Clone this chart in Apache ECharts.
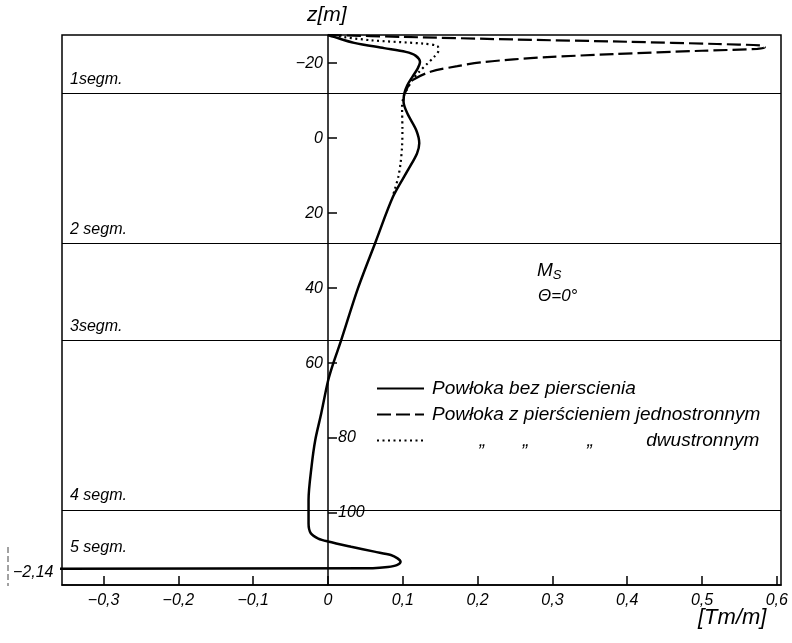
<!DOCTYPE html>
<html><head><meta charset="utf-8">
<script src="https://cdn.jsdelivr.net/npm/echarts@6/dist/echarts.min.js"></script>
<style>html,body{margin:0;padding:0;background:#fff}#c{width:792px;height:643px}</style>
</head><body><div id="c"></div>
<script>
// ---- data (x = M_s [Tm/m], z = depth [m]) ----
const seriesNames = [
  'Powłoka bez pierscienia',
  'Powłoka z pierścieniem jednostronnym',
  '         „       „           „          dwustronnym'
];
const solidData = [
  [0.0,-27.5],[0.008,-27.0],[0.035,-25.4],[0.075,-24.0],[0.104,-23.0],[0.117,-22.0],
  [0.123,-20.3],[0.120,-18.6],[0.113,-16.4],[0.106,-14.1],[0.102,-11.9],[0.101,-9.7],
  [0.106,-6.6],[0.118,-2.1],[0.122,1.4],[0.119,4.1],[0.107,8.5],[0.087,15.6],
  [0.064,27.5],[0.040,40.1],[0.017,54.3],[0.007,60.1],[0.0,64.8],
  [-0.009,73.4],[-0.017,80.5],[-0.022,87.6],[-0.026,96.5],[-0.026,102.8],[-0.023,105.4],
  [-0.013,106.8],[0.0,107.6],[0.031,109.0],[0.062,110.3],[0.084,111.2],[0.093,112.1],
  [0.097,113.0],[0.092,113.9],[0.080,114.4],[0.06,114.7],[-2.14,115.4]
];
const dashedData = [
  [0.0,-27.5],[0.1,-27.0],[0.25,-26.3],[0.4,-25.7],[0.52,-25.1],[0.578,-24.7],
  [0.584,-24.2],[0.574,-23.8],[0.5,-23.3],[0.381,-22.4],[0.293,-21.6],[0.248,-21.0],
  [0.204,-20.2],[0.173,-19.2],[0.137,-17.7],[0.115,-15.7],[0.108,-14.1],[0.103,-12.0]
];
const dottedData = [
  [0.0,-27.5],[0.057,-26.1],[0.128,-25.2],[0.146,-24.6],[0.148,-23.5],[0.142,-21.7],
  [0.133,-19.9],[0.122,-17.7],[0.113,-15.5],[0.105,-12.8],[0.101,-11.0],[0.099,-8.3],
  [0.0995,-2.1],[0.099,2.3],[0.097,6.7],[0.094,10.3],[0.089,13.9],[0.086,15.8]
];
const segmentZ = [-12.0, 28.0, 54.0, 99.2, 115.0];
const segmentNames = ['1segm.', '2 segm.', '3segm.', '4 segm.', '5 segm.'];
const xTicks = [-0.3,-0.2,-0.1,0,0.1,0.2,0.3,0.4,0.5,0.6];
const zTicks = [-20,0,20,40,60,80,100];
const zTicksLeft = [-20,0,20,40,60];
const zTicksRight = [80,100];

const X_MIN = -0.3556, X_MAX = 0.6056;
const GRID = {left: 62, right: 11, top: 35, bottom: 58};
const plotW = 792 - GRID.left - GRID.right;
// pixel offset of the z axis (at x = 0) from the plot's left and right edges
const zeroFromLeft = (0 - X_MIN) / (X_MAX - X_MIN) * plotW;
const zeroFromRight = plotW - zeroFromLeft;

const FONT = "'Liberation Sans', Arial, sans-serif";
const txt = (size) => ({fontFamily: FONT, fontStyle: 'italic', fontSize: size, color: '#000'});
const num = (s) => s.replace('-', '\u2212');

const chart = echarts.init(document.getElementById('c'), null, {renderer: 'canvas'});
const segLines = segmentZ.map((z, i) => {
  const item = {yAxis: z, label: {formatter: segmentNames[i]}};
  if (i === segmentZ.length - 1) {
    item.lineStyle = {color: 'rgba(0,0,0,0)', width: 0};
    item.label.distance = [8, 14];
  }
  return item;
});

chart.setOption({
  animation: false,
  backgroundColor: '#fff',
  grid: Object.assign({show: true, borderColor: '#000', borderWidth: 1.5,
    containLabel: false, outerBoundsMode: 'none'}, GRID),
  legend: {
    orient: 'vertical', left: 371, top: 374, itemWidth: 47, itemHeight: 14, itemGap: 7,
    selectedMode: false, data: seriesNames,
    itemStyle: {opacity: 0},
    textStyle: Object.assign(txt(19), {padding: [0,0,0,3], lineHeight: 19})
  },
  xAxis: {
    type: 'value', min: X_MIN, max: X_MAX,
    splitLine: {show: false},
    axisLine: {onZero: false, lineStyle: {color: '#000', width: 1.5}},
    axisTick: {inside: true, length: 9, customValues: xTicks, lineStyle: {color: '#000', width: 1.5}},
    axisLabel: Object.assign(txt(16), {customValues: xTicks, margin: 8,
      formatter: v => Math.abs(v) < 1e-9 ? '0' : num(v.toFixed(1).replace('.', ','))})
  },
  yAxis: [{
    type: 'value', inverse: true, min: -27.5, max: 119.2, position: 'left',
    offset: -zeroFromLeft,
    splitLine: {show: false},
    axisLine: {onZero: false, lineStyle: {color: '#000', width: 1.5}},
    axisTick: {inside: true, length: 9, customValues: zTicks, lineStyle: {color: '#000', width: 1.5}},
    axisLabel: Object.assign(txt(16), {customValues: zTicksLeft, margin: 5,
      formatter: v => num(String(v))})
  }, {
    type: 'value', inverse: true, min: -27.5, max: 119.2, position: 'right',
    offset: -zeroFromRight,
    splitLine: {show: false},
    axisLine: {show: false, onZero: false},
    axisTick: {show: false},
    axisLabel: Object.assign(txt(16), {customValues: zTicksRight, margin: 10,
      formatter: v => String(v)})
  }],
  series: [{
    name: seriesNames[0], type: 'line', data: solidData, symbol: 'none', smooth: 0.3,
    lineStyle: {color: '#000', width: 2.5},
    markLine: {
      silent: true, symbol: ['none','none'],
      lineStyle: {color: '#000', width: 1.2, type: 'solid'},
      label: Object.assign(txt(16), {position: 'insideStartTop', distance: [8, 6]}),
      data: segLines
    }
  }, {
    name: seriesNames[1], type: 'line', data: dashedData, symbol: 'none', smooth: 0.3,
    lineStyle: {color: '#000', width: 2.2, type: [14, 5]}
  }, {
    name: seriesNames[2], type: 'line', data: dottedData, symbol: 'none', smooth: 0.3,
    lineStyle: {color: '#000', width: 2.2, type: [2, 3.5]}
  }],
  graphic: [
    {type: 'text', left: 307, top: 5, style: {text: 'z[m]', fill: '#000', font: 'italic 21px ' + FONT}},
    {type: 'text', left: 698, top: 607, style: {text: '[Tm/m]', fill: '#000', font: 'italic 22px ' + FONT}},
    {type: 'text', left: 13, top: 565, style: {text: '\u22122,14', fill: '#000', font: 'italic 16px ' + FONT}},
    {type: 'line', shape: {x1: 8, y1: 547, x2: 8, y2: 586},
      style: {stroke: '#444', lineWidth: 1, lineDash: [6, 3]}},
    {type: 'text', left: 537, top: 261, style: {
      text: '{m|M}{s|S}', rich: {
        m: {fontFamily: FONT, fontStyle: 'italic', fontSize: 19, fill: '#000'},
        s: {fontFamily: FONT, fontStyle: 'italic', fontSize: 13, fill: '#000', padding: [10,0,0,0]}
      }}},
    {type: 'text', left: 538, top: 288, style: {text: 'Θ=0°', fill: '#000', font: 'italic 17px ' + FONT}}
  ]
});
</script></body></html>
